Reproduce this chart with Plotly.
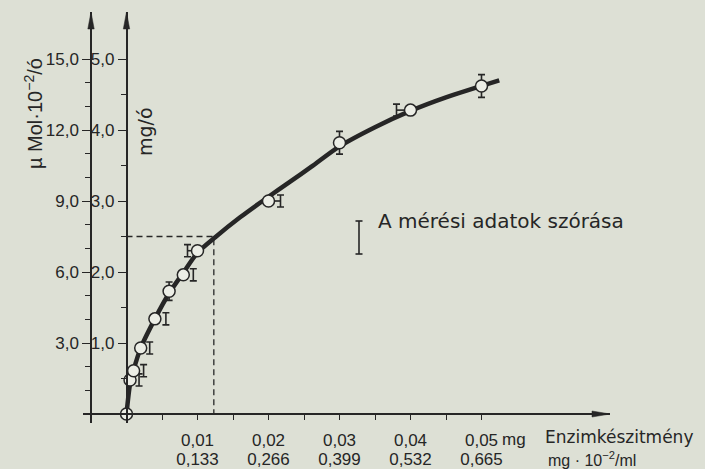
import plotly.graph_objects as go

# ---------------- data ----------------
x_mg = [0, 0.0005, 0.001, 0.002, 0.004, 0.006, 0.008, 0.01, 0.02, 0.03, 0.04, 0.05]
y_mg_per_h = [0, 0.48, 0.61, 0.93, 1.34, 1.73, 1.96, 2.30, 3.00, 3.82, 4.28, 4.62]
y_sd = [0, 0.085, 0.085, 0.085, 0.085, 0.13, 0.085, 0.085, 0.085, 0.16, 0.085, 0.16]

curve_x = [0, 0.0005, 0.001, 0.002, 0.004, 0.006, 0.008, 0.01, 0.0125, 0.016,
           0.02, 0.023, 0.026, 0.03, 0.035, 0.04, 0.045, 0.0525]
curve_y = [0, 0.42, 0.62, 0.93, 1.34, 1.70, 1.99, 2.27, 2.49, 2.77,
           3.06, 3.27, 3.48, 3.77, 4.04, 4.27, 4.46, 4.70]

ref_x = 0.0123   # dashed reading line
ref_y = 2.5

x_ticks = [0.01, 0.02, 0.03, 0.04, 0.05]
x_ticktext_mg = ["0,01", "0,02", "0,03", "0,04", "0,05"]
x_ticktext_conc = ["0,133", "0,266", "0,399", "0,532", "0,665"]
x_minor = [0.005, 0.015, 0.025, 0.035, 0.045]
mg_ticks = [1, 2, 3, 4, 5]
mg_ticktext = ["1,0", "2,0", "3,0", "4,0", "5,0"]
mg_minor = [0.5, 1.5, 2.5, 3.5, 4.5]
umol_ticks = [3, 6, 9, 12, 15]
umol_ticktext = ["3,0", "6,0", "9,0", "12,0", "15,0"]
umol_minor = [1, 2, 4, 5, 7, 8, 10, 11, 13, 14]

# ---------------- style ----------------
INK = "#262626"
BG = "#dde0d5"
FILL = "#eceee6"
FONT = "Liberation Sans"
FONT2 = "DejaVu Sans"

W, H = 705, 469
L, R, T, B = 83, 95, 12, 46
PW, PH = W - L - R, H - T - B
XPX = 7100.0      # px per data unit (x)
YPX = 71.0        # px per data unit (mg/ó)
x0_px = 126.5     # pixel of x = 0
y0_px = 414.0     # pixel of y = 0
xmin = (L - x0_px) / XPX
xmax = (W - R - x0_px) / XPX
ymin = -(H - B - y0_px) / YPX
ymax = (y0_px - T) / YPX

def px_x(px):
    return (px - L) / PW

def px_y(py):
    return (H - B - py) / PH

# error-bar horizontal offsets (px)
err_off_px = [0, 9, 10, 9, 11, 0, 10, -10, 12, 0, -14, 0]

fig = go.Figure()

# fitted curve
fig.add_trace(go.Scatter(x=curve_x, y=curve_y, mode="lines",
                         line=dict(color=INK, width=4.5, shape="spline", smoothing=0.8),
                         hoverinfo="skip", showlegend=False))

# dashed reading lines
fig.add_trace(go.Scatter(x=[0, ref_x, ref_x], y=[ref_y, ref_y, 0], mode="lines",
                         line=dict(color=INK, width=1.3, dash="6px,4px"),
                         hoverinfo="skip", showlegend=False))

# error bars (offset beside points)
ex, ey, ed, cplus, cminus = [], [], [], [], []
for xv, yv, sd, off in zip(x_mg, y_mg_per_h, y_sd, err_off_px):
    if sd <= 0:
        continue
    ex.append(xv + off / XPX)
    ey.append(yv)
    ed.append(sd)
    d = abs(off) / XPX
    if off < 0 and abs(off) >= 10:
        cplus.append(d); cminus.append(0)
    elif off >= 12:
        cplus.append(0); cminus.append(d)
    else:
        cplus.append(0); cminus.append(0)

fig.add_trace(go.Scatter(x=ex, y=ey, mode="markers", marker=dict(size=1, color="rgba(0,0,0,0)"),
                         error_y=dict(type="data", array=ed, color=INK, thickness=1.6, width=3.5),
                         error_x=dict(type="data", array=cplus, arrayminus=cminus, symmetric=False,
                                      color=INK, thickness=1.6, width=0),
                         hoverinfo="skip", showlegend=False))

# measured points
fig.add_trace(go.Scatter(x=x_mg, y=y_mg_per_h, mode="markers",
                         marker=dict(symbol="circle", size=12, color=FILL,
                                     line=dict(color=INK, width=1.5)),
                         showlegend=False))

# invisible traces for the secondary axes
fig.add_trace(go.Scatter(x=[0], y=[0], yaxis="y2", mode="markers",
                         marker=dict(size=1, color="rgba(0,0,0,0)"),
                         hoverinfo="skip", showlegend=False))
fig.add_trace(go.Scatter(x=[0], y=[0], xaxis="x2", mode="markers",
                         marker=dict(size=1, color="rgba(0,0,0,0)"),
                         hoverinfo="skip", showlegend=False))

pos_mg = (0 - xmin) / (xmax - xmin)
pos_umol = (-0.005 - xmin) / (xmax - xmin)
pos_x = (0 - ymin) / (ymax - ymin)

tickfont = dict(family=FONT, size=17, color=INK)

fig.update_layout(
    width=W, height=H,
    margin=dict(l=L, r=R, t=T, b=B, pad=0, autoexpand=False),
    paper_bgcolor=BG, plot_bgcolor=BG,
    showlegend=False,
    xaxis=dict(range=[xmin, xmax], anchor="free", position=pos_x, automargin=False,
               showgrid=False, zeroline=False, showline=True, linecolor=INK, linewidth=1.5,
               ticks="outside", ticklen=5, tickwidth=1.3, tickcolor=INK,
               tickvals=x_ticks, ticktext=x_ticktext_mg, tickfont=tickfont,
               ticklabelstandoff=6,
               minor=dict(tickvals=x_minor, ticks="outside", ticklen=5, tickwidth=1.3, tickcolor=INK)),
    xaxis2=dict(range=[xmin, xmax], overlaying="x", anchor="free", position=pos_x,
                side="bottom", automargin=False,
                showgrid=False, zeroline=False, showline=False,
                ticks="outside", ticklen=5, tickcolor="rgba(0,0,0,0)",
                tickvals=x_ticks, ticktext=x_ticktext_conc, tickfont=tickfont,
                ticklabelstandoff=25),
    yaxis=dict(range=[ymin, ymax], anchor="free", position=pos_mg, side="left", automargin=False,
               showgrid=False, zeroline=False, showline=True, linecolor=INK, linewidth=1.5,
               ticks="outside", ticklen=8, tickwidth=1.3, tickcolor=INK,
               tickvals=mg_ticks, ticktext=mg_ticktext, tickfont=tickfont,
               minor=dict(tickvals=mg_minor, ticks="outside", ticklen=5, tickwidth=1.3, tickcolor=INK)),
    yaxis2=dict(range=[ymin * 3, ymax * 3], overlaying="y", anchor="free", position=pos_umol,
                side="left", automargin=False,
                showgrid=False, zeroline=False, showline=True, linecolor=INK, linewidth=1.5,
                ticks="outside", ticklen=8, tickwidth=1.3, tickcolor=INK,
                tickvals=umol_ticks, ticktext=umol_ticktext, tickfont=tickfont,
                minor=dict(tickvals=umol_minor, ticks="outside", ticklen=5, tickwidth=1.3, tickcolor=INK)),
)

# arrowheads (pixel-sized paths anchored on the axis ends)
arrow_up = "M 0,0 L -3.2,-17 L 3.2,-17 Z"
for xa in [0, -0.005]:
    fig.add_shape(type="path", xref="x", yref="y", xsizemode="pixel", ysizemode="pixel",
                  xanchor=xa, yanchor=ymax, path=arrow_up, fillcolor=INK,
                  line=dict(color=INK, width=0.5))
fig.add_shape(type="path", xref="x", yref="y", xsizemode="pixel", ysizemode="pixel",
              xanchor=xmax, yanchor=0, path="M 0,0 L -18,3 L -18,-3 Z", fillcolor=INK,
              line=dict(color=INK, width=0.5))

# legend key "I"
kx, ky0, ky1 = px_x(359), px_y(254), px_y(221)
fig.add_shape(type="line", xref="paper", yref="paper", x0=kx, x1=kx, y0=ky0, y1=ky1,
              line=dict(color=INK, width=1.6))
for yy in (ky0, ky1):
    fig.add_shape(type="line", xref="paper", yref="paper", x0=px_x(355.5), x1=px_x(362.5),
                  y0=yy, y1=yy, line=dict(color=INK, width=1.6))

# texts
def txt(text, px, py, size, xanchor="left", angle=0, family=FONT):
    fig.add_annotation(text=text, x=px_x(px), y=px_y(py), xref="paper", yref="paper",
                       showarrow=False, xanchor=xanchor, yanchor="middle", textangle=angle,
                       font=dict(family=family, size=size, color=INK))

txt("µ Mol·10<sup>−2</sup>/ó", 33, 114, 20, xanchor="center", angle=-90)
txt("mg/ó", 145, 132, 19, xanchor="center", angle=-90, family=FONT2)
txt("A mérési adatok szórása", 376, 221, 20, family=FONT2)
txt("mg", 500, 439, 17)
txt("Enzimkészitmény", 543, 437, 17, family=FONT2)
txt("mg · 10<sup>−2</sup>/ml", 546, 459, 16)

fig.write_html("out.html")
